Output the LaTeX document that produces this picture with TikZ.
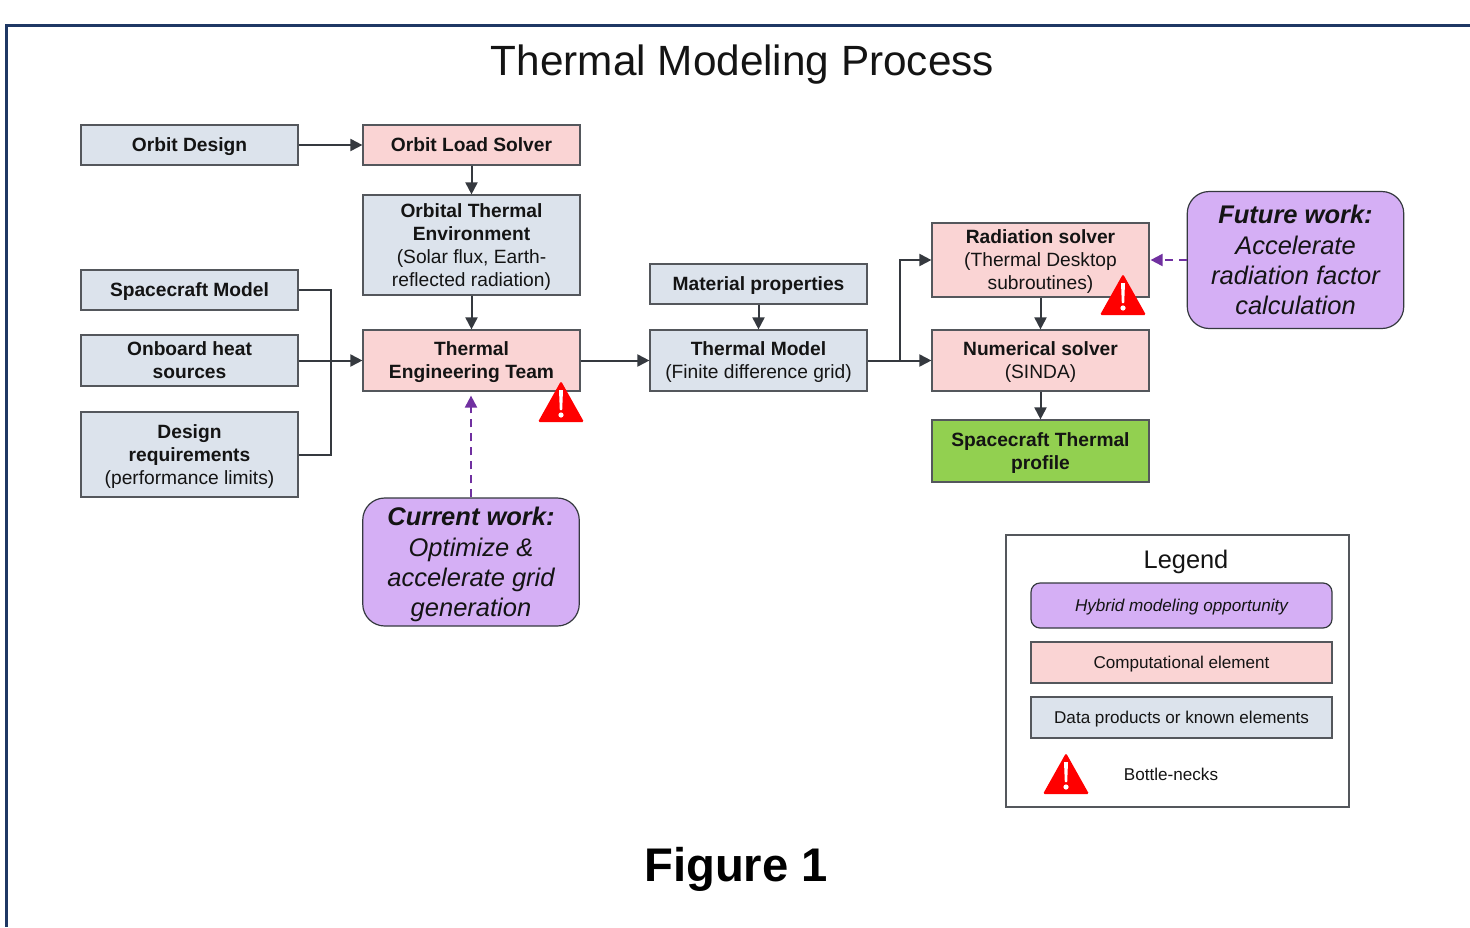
\documentclass[tikz,border=0pt]{standalone}
\usepackage{fontspec}
\setmainfont{Liberation Sans}
\usetikzlibrary{arrows.meta,calc}
\definecolor{bluebox}{HTML}{DCE3EC}
\definecolor{pinkbox}{HTML}{FAD4D4}
\definecolor{purplebox}{HTML}{D5AFF5}
\definecolor{greenbox}{HTML}{92D050}
\definecolor{edgegrey}{HTML}{54575C}
\definecolor{linegrey}{HTML}{35393F}
\definecolor{dashpurple}{HTML}{7030A0}
\definecolor{framenavy}{HTML}{1F3864}
\definecolor{inktext}{HTML}{141414}
\tikzset{
  x=1pt,y=1pt,
  every node/.style={text=inktext},
  basebox/.style={draw=edgegrey,line width=1.2pt,align=center,inner sep=0pt,
    font=\fontsize{19.2}{23}\selectfont,text depth=-3pt},
  databox/.style={basebox,fill=bluebox,minimum width=217pt},
  compbox/.style={basebox,fill=pinkbox,minimum width=217pt},
  resultbox/.style={basebox,fill=greenbox,minimum width=217pt},
  workbox/.style={draw=linegrey,line width=1.2pt,fill=purplebox,rounded corners=22pt,align=center,inner sep=0pt,
    minimum width=216.5pt,font=\fontsize{25.5}{30.4}\selectfont\itshape,text depth=0pt},
  legbox/.style={draw=edgegrey,line width=1.2pt,inner sep=0pt,minimum width=301pt,
    font=\fontsize{17.1}{20}\selectfont,text height=12.5pt,text depth=-0.5pt},
  flow/.style={draw=linegrey,line width=2pt,-{Triangle[length=12pt,width=12pt]}},
  plainflow/.style={draw=linegrey,line width=2pt},
  workflow/.style={draw=dashpurple,line width=2pt,dash pattern=on 8pt off 6pt,-{Triangle[length=12pt,width=12pt]}},
  warn/.pic={
    \fill[red,rounded corners=1.5pt] (-23,-20) -- (0,21) -- (23,-20) -- cycle;
    \fill[white] (-2,12) -- (2,12) -- (1.2,-8) -- (-1.2,-8) -- cycle;
    \fill[white] (0,-13) circle (2.6);
  }
}
\begin{document}
\begin{tikzpicture}
\useasboundingbox (0,0) rectangle (1470,-927);
\fill[white] (0,0) rectangle (1470,-927);
\draw[framenavy,line width=2.4pt] (1470,-25.5) -- (6.5,-25.5) -- (6.5,-927);
\node[font=\fontsize{42.3}{50}\selectfont] (title) at (742.5,-65) {Thermal Modeling Process};
\node[font=\fontsize{47.2}{54}\selectfont\bfseries,text=black] (fig) at (736,-869) {Figure 1};

\node[databox,minimum height=40pt] (od) at (189.5,-145) {\textbf{Orbit Design}};
\node[compbox,minimum height=40pt] (ols) at (471.5,-145) {\textbf{Orbit Load Solver}};
\node[databox,minimum height=100pt] (ote) at (471.5,-245) {\textbf{Orbital Thermal}\\\textbf{Environment}\\(Solar flux, Earth-\\reflected radiation)};
\node[databox,minimum height=40pt] (sm) at (189.5,-290) {\textbf{Spacecraft Model}};
\node[databox,minimum height=51pt] (ohs) at (189.5,-360.5) {\textbf{Onboard heat}\\\textbf{sources}};
\node[databox,minimum height=85pt] (dr) at (189.5,-454.5) {\textbf{Design}\\\textbf{requirements}\\(performance limits)};
\node[compbox,minimum height=61pt] (tet) at (471.5,-360.5) {\textbf{Thermal}\\\textbf{Engineering Team}};
\node[databox,minimum height=40pt] (mp) at (758.5,-284) {\textbf{Material properties}};
\node[databox,minimum height=61pt] (tm) at (758.5,-360.5) {\textbf{Thermal Model}\\(Finite difference grid)};
\node[compbox,minimum height=74pt] (rs) at (1040.5,-260) {\textbf{Radiation solver}\\(Thermal Desktop\\subroutines)};
\node[compbox,minimum height=61pt] (ns) at (1040.5,-360.5) {\textbf{Numerical solver}\\(SINDA)};
\node[resultbox,minimum height=62pt] (stp) at (1040.5,-451) {\textbf{Spacecraft Thermal}\\\textbf{profile}};
\node[workbox,minimum height=137pt] (fw) at (1295.5,-260) {\textbf{Future work:}\\Accelerate\\radiation factor\\calculation};
\node[workbox,minimum height=128pt] (cw) at (471,-562) {\textbf{Current work:}\\Optimize \&\\accelerate grid\\generation};

\coordinate (busin) at (331,-360.5);
\coordinate (split) at (899.5,-360.5);
\coordinate (tipte) at ($(tet.south)+(-0.5,-4)$);
\coordinate (tiprs) at ($(rs.east)+(1,0)$);

\draw[flow] (od) -- (ols);
\draw[flow] (ols) -- (ote);
\draw[flow] (ote) -- (tet);
\draw[flow] (ohs) -- (tet);
\draw[plainflow] (sm.east) -| (busin);
\draw[plainflow] (dr.east) -| (busin);
\draw[flow] (tet) -- (tm);
\draw[flow] (mp) -- (tm);
\draw[flow] (tm) -- (ns);
\draw[flow] (split) |- (rs.west);
\draw[flow] (rs) -- (ns);
\draw[flow] (ns) -- (stp);
\draw[workflow] (cw.north) -- (tipte);
\draw[workflow] (fw.west) -- (tiprs);

\pic at (561,-402) {warn};
\pic at (1123,-295) {warn};

\node[draw=edgegrey,line width=1.2pt,minimum width=343pt,minimum height=272pt,inner sep=0pt] (lg) at (1177.5,-671) {};
\node[font=\fontsize{25.4}{30}\selectfont] (lgt) at (1186,-562) {Legend};
\node[legbox,fill=purplebox,draw=linegrey,rounded corners=9pt,minimum height=45pt,font=\fontsize{17.1}{20}\selectfont\itshape] (l1) at (1181.5,-605.5) {Hybrid modeling opportunity};
\node[legbox,fill=pinkbox,minimum height=41pt] (l2) at (1181.5,-662.5) {Computational element};
\node[legbox,fill=bluebox,minimum height=41pt] (l3) at (1181.5,-717.5) {Data products or known elements};
\pic at (1066,-774) {warn};
\node[font=\fontsize{17.1}{20}\selectfont] (l4) at (1171,-774) {Bottle-necks};
\end{tikzpicture}
\end{document}
